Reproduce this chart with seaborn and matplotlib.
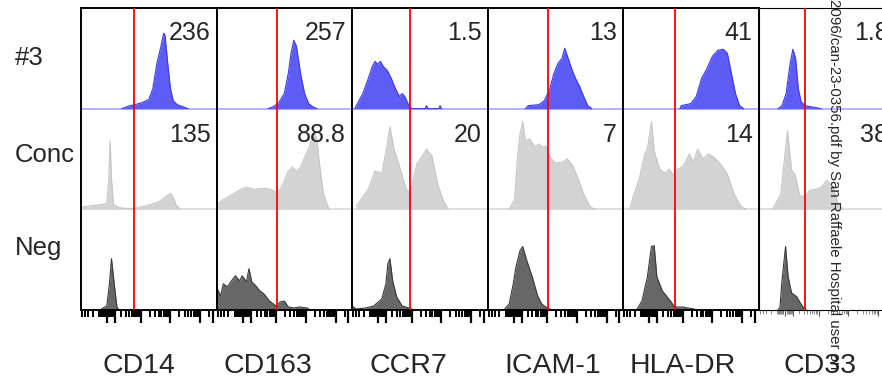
import matplotlib
matplotlib.use("Agg")
import matplotlib.pyplot as plt
import numpy as np
import seaborn as sns

# panel markers, gate positions (fraction of panel width) and MFI labels
markers = ["CD14", "CD163", "CCR7", "ICAM-1", "HLA-DR", "CD33"]
row_labels = ["#3", "Conc", "Neg"]
pos3_labels = ["236", "257", "1.5", "13", "41", "1.8"]
conc_labels = ["135", "88.8", "20", "7", "14", "38"]
gates = [0.39, 0.445, 0.43, 0.45, 0.385, 0.34]

# histogram outlines (x = fraction of panel, y = fraction of row)
pos3_x = [
    [0.30, 0.34, 0.36, 0.40, 0.45, 0.50, 0.53, 0.56, 0.59, 0.61, 0.62, 0.64, 0.66, 0.68, 0.71, 0.75, 0.79],
    [0.38, 0.42, 0.46, 0.50, 0.53, 0.55, 0.57, 0.59, 0.62, 0.65, 0.68, 0.71, 0.74],
    [0.02, 0.04, 0.08, 0.12, 0.15, 0.17, 0.19, 0.21, 0.23, 0.26, 0.29, 0.32, 0.35, 0.37, 0.39, 0.42, 0.44,
     0.54, 0.55, 0.56, 0.64, 0.65, 0.66],
    [0.28, 0.30, 0.38, 0.42, 0.46, 0.49, 0.52, 0.55, 0.57, 0.59, 0.62, 0.65, 0.68, 0.71, 0.74, 0.77],
    [0.42, 0.43, 0.50, 0.54, 0.58, 0.62, 0.66, 0.70, 0.74, 0.77, 0.80, 0.83, 0.86, 0.89],
    [0.14, 0.17, 0.20, 0.23, 0.25, 0.27, 0.29, 0.31, 0.34, 0.38, 0.42, 0.46],
]
pos3_y = [
    [0.00, 0.02, 0.03, 0.04, 0.06, 0.09, 0.20, 0.45, 0.62, 0.75, 0.73, 0.45, 0.20, 0.08, 0.04, 0.02, 0.00],
    [0.00, 0.02, 0.06, 0.15, 0.35, 0.55, 0.68, 0.62, 0.35, 0.15, 0.05, 0.02, 0.00],
    [0.00, 0.05, 0.15, 0.30, 0.42, 0.47, 0.44, 0.47, 0.42, 0.38, 0.30, 0.20, 0.12, 0.15, 0.12, 0.03, 0.00,
     0.00, 0.03, 0.00, 0.00, 0.03, 0.00],
    [0.00, 0.03, 0.04, 0.08, 0.20, 0.35, 0.45, 0.50, 0.60, 0.52, 0.40, 0.30, 0.22, 0.12, 0.03, 0.00],
    [0.00, 0.03, 0.05, 0.12, 0.30, 0.40, 0.52, 0.58, 0.59, 0.55, 0.35, 0.15, 0.03, 0.00],
    [0.00, 0.03, 0.15, 0.45, 0.59, 0.50, 0.20, 0.07, 0.03, 0.02, 0.01, 0.00],
]

conc_x = [
    [0.00, 0.04, 0.10, 0.16, 0.19, 0.205, 0.215, 0.225, 0.24, 0.27, 0.32, 0.40, 0.46, 0.52, 0.58, 0.62, 0.66, 0.68, 0.70, 0.73],
    [0.00, 0.03, 0.08, 0.13, 0.18, 0.22, 0.28, 0.34, 0.40, 0.44, 0.47, 0.50, 0.53, 0.56, 0.59, 0.62, 0.64, 0.66,
     0.68, 0.70, 0.72, 0.74, 0.76, 0.79, 0.83],
    [0.03, 0.12, 0.17, 0.22, 0.25, 0.28, 0.31, 0.35, 0.40, 0.43, 0.48, 0.52, 0.55, 0.59, 0.63, 0.67, 0.71],
    [0.16, 0.20, 0.22, 0.24, 0.26, 0.28, 0.31, 0.35, 0.38, 0.40, 0.43, 0.46, 0.50, 0.55, 0.59, 0.63, 0.67, 0.71, 0.76, 0.80],
    [0.05, 0.08, 0.12, 0.16, 0.18, 0.21, 0.23, 0.27, 0.31, 0.34, 0.37, 0.40, 0.44, 0.49, 0.52, 0.55, 0.59, 0.63,
     0.67, 0.72, 0.77, 0.82, 0.87, 0.91],
    [0.10, 0.16, 0.21, 0.24, 0.265, 0.30, 0.34, 0.375, 0.42, 0.46, 0.50, 0.545, 0.58, 0.62],
]
conc_y = [
    [0.02, 0.03, 0.04, 0.05, 0.06, 0.30, 0.68, 0.30, 0.05, 0.02, 0.01, 0.01, 0.03, 0.05, 0.08, 0.12, 0.16, 0.12, 0.05, 0.00],
    [0.03, 0.08, 0.12, 0.16, 0.20, 0.22, 0.20, 0.21, 0.20, 0.17, 0.20, 0.28, 0.38, 0.42, 0.38, 0.42, 0.48, 0.55,
     0.60, 0.70, 0.77, 0.70, 0.45, 0.15, 0.00],
    [0.03, 0.20, 0.38, 0.36, 0.57, 0.82, 0.60, 0.43, 0.20, 0.16, 0.46, 0.53, 0.60, 0.53, 0.26, 0.10, 0.00],
    [0.00, 0.10, 0.50, 0.75, 0.87, 0.68, 0.70, 0.62, 0.65, 0.62, 0.63, 0.52, 0.46, 0.47, 0.50, 0.43, 0.30, 0.15, 0.02, 0.00],
    [0.00, 0.15, 0.30, 0.55, 0.60, 0.87, 0.58, 0.40, 0.36, 0.40, 0.34, 0.40, 0.42, 0.55, 0.47, 0.60, 0.50, 0.55,
     0.52, 0.45, 0.35, 0.15, 0.03, 0.00],
    [0.00, 0.15, 0.78, 0.39, 0.35, 0.14, 0.12, 0.19, 0.20, 0.22, 0.29, 0.22, 0.07, 0.00],
]

neg_x = [
    [0.15, 0.19, 0.21, 0.225, 0.245, 0.265, 0.28],
    [0.00, 0.03, 0.05, 0.08, 0.11, 0.14, 0.17, 0.19, 0.22, 0.24, 0.26, 0.29, 0.32, 0.35, 0.39, 0.44, 0.47, 0.50,
     0.53, 0.57, 0.61, 0.67, 0.69],
    [0.00, 0.03, 0.10, 0.16, 0.22, 0.25, 0.265, 0.28, 0.30, 0.33, 0.37, 0.42, 0.46],
    [0.12, 0.16, 0.19, 0.21, 0.24, 0.26, 0.29, 0.33, 0.37, 0.40, 0.44, 0.48],
    [0.10, 0.14, 0.18, 0.21, 0.23, 0.25, 0.29, 0.35, 0.38, 0.44, 0.52, 0.55],
    [0.14, 0.155, 0.17, 0.196, 0.215, 0.24, 0.28, 0.30, 0.33, 0.35],
]
neg_y = [
    [0.01, 0.04, 0.26, 0.51, 0.26, 0.03, 0.00],
    [0.23, 0.14, 0.26, 0.23, 0.29, 0.34, 0.29, 0.34, 0.28, 0.41, 0.28, 0.24, 0.19, 0.16, 0.09, 0.04, 0.08, 0.09,
     0.03, 0.02, 0.03, 0.02, 0.00],
    [0.04, 0.01, 0.02, 0.04, 0.11, 0.26, 0.46, 0.51, 0.29, 0.13, 0.04, 0.02, 0.00],
    [0.00, 0.06, 0.26, 0.43, 0.59, 0.63, 0.49, 0.33, 0.14, 0.06, 0.02, 0.00],
    [0.00, 0.09, 0.33, 0.63, 0.64, 0.33, 0.19, 0.09, 0.03, 0.03, 0.01, 0.00],
    [0.00, 0.03, 0.30, 0.63, 0.33, 0.17, 0.13, 0.08, 0.02, 0.00],
]

sns.set_style("white")
plt.rcParams["font.family"] = ["Liberation Sans", "DejaVu Sans"]

W, H = 882, 391
fig = plt.figure(figsize=(W / 100, H / 100), dpi=100)

col_left = [81, 216.5, 352, 487.5, 623, 759]
col_w = 135.5
top_px, bot_px = 8, 310
row_h = (bot_px - top_px) / 3


def logicle(v):
    # asinh-style flow cytometry axis
    return 0.193 + 0.0955 * np.arcsinh(np.asarray(v, dtype=float) / 150.0)


major_vals = [0, 100, 1000, 10000, 100000, 262144]
minor_vals = ([m * 10 ** k for k in (2, 3, 4) for m in range(2, 10)] + [200000]
              + [-m * 100 for m in range(1, 6)] + [s * m * 10 for s in (-1, 1) for m in range(2, 10)])

rows = [
    (pos3_x, pos3_y, "#5d5df6", "#3a3ae6", 2, "#a6a6ff"),
    (conc_x, conc_y, "#d3d3d3", "#c6c6c6", 1, "#dadada"),
    (neg_x, neg_y, "#676767", "#3a3a3a", 0, None),
]

for c, marker in enumerate(markers):
    ax = fig.add_axes([col_left[c] / W, 1 - bot_px / H, col_w / W, (bot_px - top_px) / H])
    ax.set_xlim(0, 1)
    ax.set_ylim(0, 3)
    for xs_all, ys_all, fill, edge, base, baseline_col in rows:
        xs = np.array(xs_all[c])
        ys = np.array(ys_all[c]) + base
        if baseline_col:
            ax.axhline(base, color=baseline_col, lw=1.2, zorder=1)
        ax.fill_between(xs, base, ys, color=fill, lw=0, zorder=2)
        sns.lineplot(x=xs, y=ys, ax=ax, color=edge, lw=0.8, zorder=2, sort=False)
    ax.axvline(gates[c], color="red", lw=1.3, zorder=3)
    ax.text(1 - 6 / col_w, 3 - 32 / row_h, pos3_labels[c], ha="right", va="baseline", fontsize=18, zorder=4)
    ax.text(1 - 6 / col_w, 2 - 33 / row_h, conc_labels[c], ha="right", va="baseline", fontsize=18, zorder=4)

    last = c == len(markers) - 1
    for s in ax.spines.values():
        s.set_color("black")
        s.set_linewidth(0.8 if last else 1.4)
    ax.set_yticks([])
    ax.set_xticks(logicle(major_vals))
    ax.set_xticks(logicle(minor_vals), minor=True)
    ax.tick_params(axis="x", which="major", direction="out", length=4 if last else 9,
                   width=0.8 if last else 1.6, color="#555555" if last else "black", labelbottom=False)
    ax.tick_params(axis="x", which="minor", direction="out", length=3 if last else 5,
                   width=0.6 if last else 1.4, color="#777777" if last else "black")
    ax.tick_params(axis="x", bottom=True, which="both")

    fig.text([139, 268, 408, 553, 683, 820][c] / W, 1 - 373 / H, marker,
             ha="center", va="baseline", fontsize=20.5)

for label, y in zip(row_labels, [65, 162, 255]):
    fig.text(15 / W, 1 - y / H, label, ha="left", va="baseline", fontsize=18.5)

fig.text(834 / W, 1 + 1 / H, "2096/can-23-0356.pdf by San Raffaele Hospital user on",
         rotation=270, ha="center", va="top", fontsize=10.8)

fig.savefig("out.png", dpi=100)
